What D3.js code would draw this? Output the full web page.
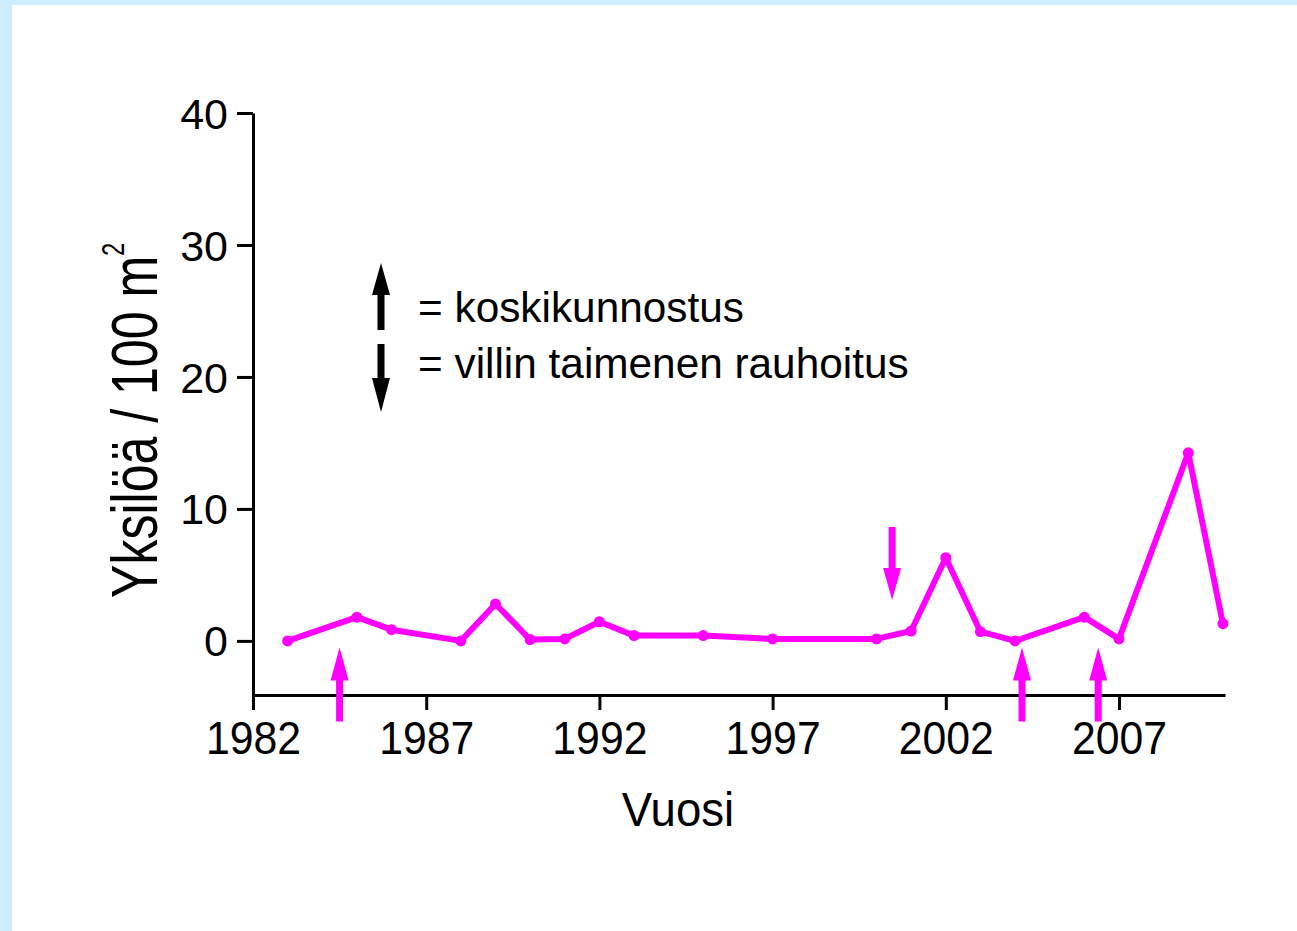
<!DOCTYPE html>
<html>
<head>
<meta charset="utf-8">
<script src="https://cdn.jsdelivr.net/npm/d3@7"></script>
<style>
  html, body { margin: 0; padding: 0; background: #cceeff; }
  svg { display: block; }
  text { font-family: "Liberation Sans", Arial, sans-serif; fill: #000; }
</style>
</head>
<body>
<svg id="chart" width="1297" height="931"></svg>
<script>
// ---- data ----
const years = [1983, 1985, 1986, 1988, 1989, 1990, 1991, 1992, 1993, 1995, 1997, 2000, 2001, 2002, 2003, 2004, 2006, 2007, 2009, 2010];
const values = [0, 1.8, 0.85, 0, 2.8, 0.1, 0.15, 1.45, 0.4, 0.4, 0.15, 0.15, 0.75, 6.3, 0.7, 0, 1.8, 0.15, 14.25, 1.3];
const xTicks = [1982, 1987, 1992, 1997, 2002, 2007];
const yTicks = [0, 10, 20, 30, 40];
const restorationYears = [1984.5, 2004.2, 2006.4];   // up arrows (koskikunnostus)
const protectionYears = [2000.45];                   // down arrows (rauhoitus)
const legendLabels = ["= koskikunnostus", "= villin taimenen rauhoitus"];
const xLabel = "Vuosi";
const yLabel = "Yksilöä / 100 m";

const svg = d3.select("#chart");
const magenta = "#ff00ff";

// white panel
svg.append("rect").attr("x", 12).attr("y", 5).attr("width", 1297 - 12).attr("height", 931 - 5).attr("fill", "#fff");

const x = d3.scaleLinear().domain([1982, 2010.06]).range([253, 1225]);
const y = d3.scaleLinear().domain([-4.1, 40]).range([695, 113]);

// y axis
const yAxis = svg.append("g").attr("transform", `translate(${x(1982)},0)`)
  .call(d3.axisLeft(y).tickValues(yTicks).tickSize(16).tickSizeOuter(0).tickPadding(9).tickFormat(d3.format("d")));
yAxis.select(".domain").attr("stroke", "#000").attr("stroke-width", 3);
yAxis.selectAll(".tick line").attr("stroke", "#000").attr("stroke-width", 3);
yAxis.selectAll(".tick text").attr("font-size", 43).attr("font-family", "Liberation Sans, Arial, sans-serif")
  .attr("fill", "#000").attr("dy", "0.35em");

// x axis
const xAxis = svg.append("g").attr("transform", `translate(0,${y(-4.1)})`)
  .call(d3.axisBottom(x).tickValues(xTicks).tickSize(15).tickSizeOuter(0).tickFormat(d3.format("d")));
xAxis.select(".domain").attr("stroke", "#000").attr("stroke-width", 3);
xAxis.selectAll(".tick line").attr("stroke", "#000").attr("stroke-width", 3);
xAxis.selectAll(".tick text").attr("font-size", 46).attr("font-family", "Liberation Sans, Arial, sans-serif")
  .attr("fill", "#000").attr("y", 59).attr("dy", 0).attr("transform", "scale(0.93,1)");

// line + points
const line = d3.line().x((d, i) => x(years[i])).y(d => y(d));
svg.append("path").datum(values).attr("d", line)
  .attr("fill", "none").attr("stroke", magenta).attr("stroke-width", 6).attr("stroke-linejoin", "round");
svg.selectAll("circle.pt").data(values).enter().append("circle")
  .attr("class", "pt").attr("cx", (d, i) => x(years[i])).attr("cy", d => y(d)).attr("r", 5.5).attr("fill", magenta);

// arrow helper: tip at (cx, tipY), dir = -1 pointing up, +1 pointing down
function arrow(g, cx, tipY, dir, len, headLen, headW, shaftW, color) {
  const s = -dir; // direction from tip toward tail
  const baseY = tipY + s * headLen;
  const tailY = tipY + s * len;
  const p = [
    [cx, tipY],
    [cx + headW / 2, baseY],
    [cx + shaftW / 2, baseY],
    [cx + shaftW / 2, tailY],
    [cx - shaftW / 2, tailY],
    [cx - shaftW / 2, baseY],
    [cx - headW / 2, baseY]
  ];
  g.append("path").attr("d", "M" + p.map(q => q.join(",")).join("L") + "Z").attr("fill", color);
}

const arrowsG = svg.append("g");
restorationYears.forEach(yr => arrow(arrowsG, x(yr), y(-0.5), -1, 74, 33, 18, 7, magenta));
protectionYears.forEach(yr => arrow(arrowsG, x(yr), y(3.1), 1, 73, 32, 18, 7, magenta));

// legend
const lg = svg.append("g");
arrow(lg, 381, 263, -1, 67, 32, 18, 7, "#000");
arrow(lg, 381, 412, 1, 68, 34, 18, 7, "#000");
lg.selectAll("text.leg").data(legendLabels).enter().append("text")
  .attr("class", "leg").attr("transform", (d, i) => `translate(418,${322 + i * 56}) scale(0.985,1)`)
  .attr("font-size", 43).text(d => d);

// axis titles
svg.append("text").attr("transform", "translate(678,826) scale(0.93,1)")
  .attr("text-anchor", "middle").attr("font-size", 49).text(xLabel);

const yt = svg.append("text").attr("transform", "translate(157,598) rotate(-90) scale(0.77,1)")
  .attr("text-anchor", "start").attr("font-size", 65);
yt.append("tspan").text(yLabel);
yt.append("tspan").attr("font-size", 31).attr("dy", -33).text("2");
</script>
</body>
</html>
